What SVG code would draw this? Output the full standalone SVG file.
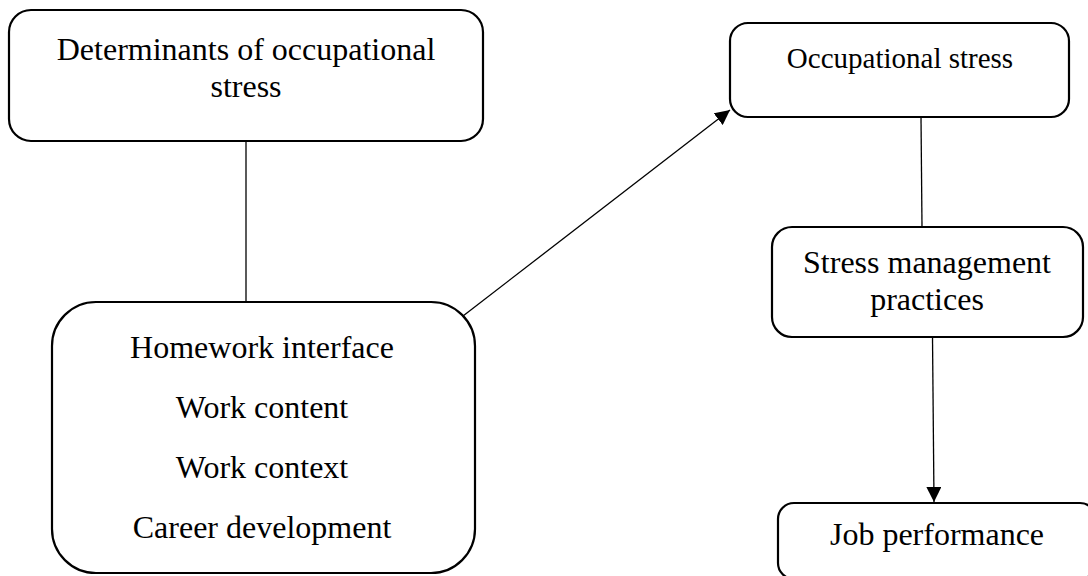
<svg xmlns="http://www.w3.org/2000/svg" width="1088" height="576" viewBox="0 0 1088 576">
<style>
.box{fill:#fff;stroke:#000;stroke-width:2.2}
.t{font-family:"Liberation Serif","Times New Roman",serif;font-size:32px;fill:#000;text-anchor:middle}
.c{stroke:#000;stroke-width:1.3;fill:none}
</style>
<defs>
<marker id="ah" markerWidth="15" markerHeight="15" viewBox="0 0 15 15" refX="15" refY="7.5" orient="auto" markerUnits="userSpaceOnUse">
<path d="M0,0 L15,7.5 L0,15 Z" fill="#000"/>
</marker>
</defs>
<rect width="1088" height="576" fill="#fff"/>
<g id="connectors">
<line class="c" x1="246" y1="141" x2="246" y2="302"/>
<line class="c" x1="463" y1="316" x2="730" y2="110" marker-end="url(#ah)"/>
<line class="c" x1="921" y1="117" x2="922" y2="227"/>
<line class="c" x1="932.5" y1="337" x2="934" y2="502" marker-end="url(#ah)"/>
</g>
<g id="determinants">
<rect class="box" x="9" y="10" width="474" height="131" rx="22"/>
<text class="t" x="246" y="60">Determinants of occupational</text>
<text class="t" x="246" y="97">stress</text>
</g>
<g id="factors">
<rect class="box" x="52" y="302" width="423" height="271" rx="44"/>
<text class="t" x="262" y="358">Homework interface</text>
<text class="t" x="262" y="418">Work content</text>
<text class="t" x="262" y="478">Work context</text>
<text class="t" x="262" y="538">Career development</text>
</g>
<g id="occupational-stress">
<rect class="box" x="730" y="23" width="339" height="94" rx="18"/>
<text class="t" x="900" y="68" style="font-size:29px">Occupational stress</text>
</g>
<g id="stress-management">
<rect class="box" x="772" y="227" width="311" height="110" rx="20"/>
<text class="t" x="927" y="273">Stress management</text>
<text class="t" x="927" y="310">practices</text>
</g>
<g id="job-performance">
<rect class="box" x="778" y="503" width="318" height="76" rx="16"/>
<text class="t" x="937" y="545">Job performance</text>
</g>
</svg>
